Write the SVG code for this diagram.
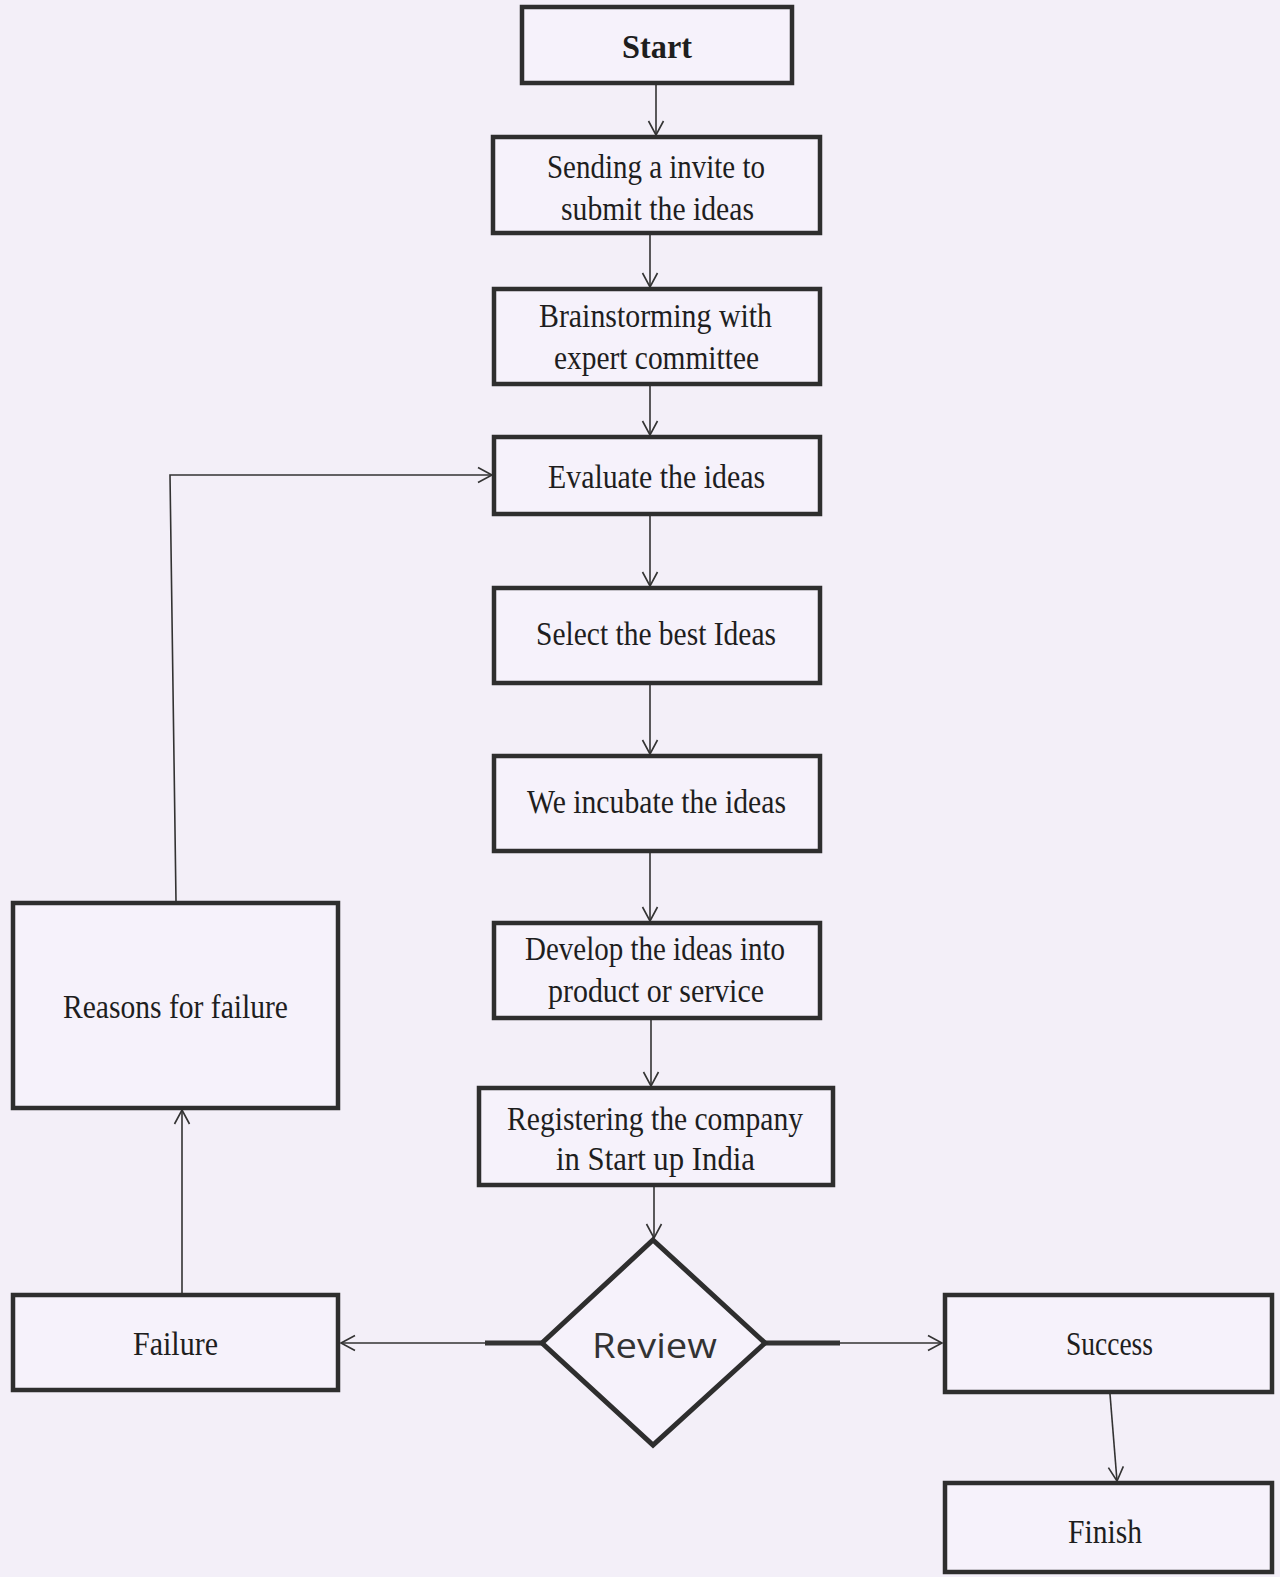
<svg xmlns="http://www.w3.org/2000/svg" width="1280" height="1577" viewBox="0 0 1280 1577">
<defs>
<marker id="arr" markerWidth="18" markerHeight="18" refX="15" refY="9" orient="auto" markerUnits="userSpaceOnUse">
<path d="M1,1.5 L15,9 L1,16.5" fill="none" stroke="#333" stroke-width="1.6"/>
</marker>
<style>
.box{fill:#f6f2fb;stroke:#2e2e2e;stroke-width:4.5}
.t{font-family:"Liberation Serif","Times New Roman",serif;font-size:33px;fill:#1e1e1e;text-anchor:start}
.c{fill:none;stroke:#333;stroke-width:1.6}
.thick{fill:none;stroke:#333;stroke-width:5}
</style>
</defs>
<rect width="1280" height="1577" fill="#f3eff8"/>
<g id="connectors">
<line class="c" x1="656" y1="85" x2="656" y2="135" marker-end="url(#arr)"/>
<line class="c" x1="650" y1="235" x2="650" y2="287" marker-end="url(#arr)"/>
<line class="c" x1="650" y1="386" x2="650" y2="435" marker-end="url(#arr)"/>
<line class="c" x1="650" y1="516" x2="650" y2="586" marker-end="url(#arr)"/>
<line class="c" x1="650" y1="685" x2="650" y2="754" marker-end="url(#arr)"/>
<line class="c" x1="650" y1="853" x2="650" y2="921" marker-end="url(#arr)"/>
<line class="c" x1="651" y1="1020" x2="651" y2="1086" marker-end="url(#arr)"/>
<line class="c" x1="654" y1="1187" x2="654" y2="1238" marker-end="url(#arr)"/>
<line class="thick" x1="542" y1="1343" x2="485" y2="1343"/>
<line class="c" x1="485" y1="1343" x2="341" y2="1343" marker-end="url(#arr)"/>
<line class="thick" x1="765" y1="1343" x2="840" y2="1343"/>
<line class="c" x1="840" y1="1343" x2="942" y2="1343" marker-end="url(#arr)"/>
<line class="c" x1="1110" y1="1394" x2="1117" y2="1481" marker-end="url(#arr)"/>
<line class="c" x1="182" y1="1293" x2="182" y2="1110" marker-end="url(#arr)"/>
<path class="c" d="M176 901 L170 475 L492 475" marker-end="url(#arr)"/>
</g>
<g id="start">
<rect class="box" x="522" y="7" width="270" height="76"/>
<text class="t" x="622" y="58" font-weight="bold" textLength="70" lengthAdjust="spacingAndGlyphs">Start</text>
</g>
<g id="sending">
<rect class="box" x="493" y="137" width="327" height="96"/>
<text class="t" x="547" y="178" textLength="218" lengthAdjust="spacingAndGlyphs">Sending a invite to</text>
<text class="t" x="561" y="220" textLength="193" lengthAdjust="spacingAndGlyphs">submit the ideas</text>
</g>
<g id="brainstorming">
<rect class="box" x="494" y="289" width="326" height="95"/>
<text class="t" x="539" y="327" textLength="233" lengthAdjust="spacingAndGlyphs">Brainstorming with</text>
<text class="t" x="554" y="369" textLength="205" lengthAdjust="spacingAndGlyphs">expert committee</text>
</g>
<g id="evaluate">
<rect class="box" x="494" y="437" width="326" height="77"/>
<text class="t" x="548" y="488" textLength="217" lengthAdjust="spacingAndGlyphs">Evaluate the ideas</text>
</g>
<g id="select">
<rect class="box" x="494" y="588" width="326" height="95"/>
<text class="t" x="536" y="645" textLength="240" lengthAdjust="spacingAndGlyphs">Select the best Ideas</text>
</g>
<g id="incubate">
<rect class="box" x="494" y="756" width="326" height="95"/>
<text class="t" x="527" y="813" textLength="259" lengthAdjust="spacingAndGlyphs">We incubate the ideas</text>
</g>
<g id="develop">
<rect class="box" x="494" y="923" width="326" height="95"/>
<text class="t" x="525" y="960" textLength="260" lengthAdjust="spacingAndGlyphs">Develop the ideas into</text>
<text class="t" x="548" y="1002" textLength="216" lengthAdjust="spacingAndGlyphs">product or service</text>
</g>
<g id="registering">
<rect class="box" x="479" y="1088" width="354" height="97"/>
<text class="t" x="507" y="1130" textLength="296" lengthAdjust="spacingAndGlyphs">Registering the company</text>
<text class="t" x="556" y="1170" textLength="199" lengthAdjust="spacingAndGlyphs">in Start up India</text>
</g>
<g id="review">
<polygon points="653,1240 765,1343 653,1445 542,1343" fill="#f6f2fb" stroke="#2e2e2e" stroke-width="5"/>
<text x="592" y="1358" font-family="'Open Sans','Noto Sans',sans-serif" font-size="35" fill="#333" textLength="125" lengthAdjust="spacingAndGlyphs">Review</text>
</g>
<g id="failure">
<rect class="box" x="13" y="1295" width="325" height="95"/>
<text class="t" x="133" y="1355" textLength="85" lengthAdjust="spacingAndGlyphs">Failure</text>
</g>
<g id="reasons">
<rect class="box" x="13" y="903" width="325" height="205"/>
<text class="t" x="63" y="1018" textLength="225" lengthAdjust="spacingAndGlyphs">Reasons for failure</text>
</g>
<g id="success">
<rect class="box" x="945" y="1295" width="327" height="97"/>
<text class="t" x="1066" y="1355" textLength="87" lengthAdjust="spacingAndGlyphs">Success</text>
</g>
<g id="finish">
<rect class="box" x="945" y="1483" width="327" height="89"/>
<text class="t" x="1068" y="1543" textLength="74" lengthAdjust="spacingAndGlyphs">Finish</text>
</g>
</svg>
